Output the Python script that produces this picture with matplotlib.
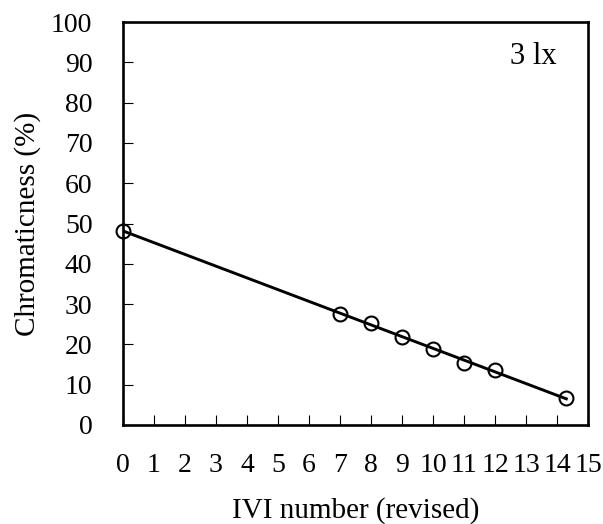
import matplotlib
matplotlib.use("Agg")
import matplotlib.pyplot as plt
import numpy as np

plt.rcParams["font.family"] = ["Liberation Serif", "DejaVu Serif"]

# data
ivi = [0, 7, 8, 9, 10, 11, 12, 14.3]
chroma = [48.2, 27.5, 25.4, 21.8, 18.9, 15.5, 13.6, 6.6]
x_ticks = list(range(0, 16))
y_ticks = list(range(0, 101, 10))

fig = plt.figure(figsize=(6.03, 5.24), dpi=100)
ax = fig.add_axes([123 / 603, 1 - 425 / 524, (588 - 123) / 603, (425 - 22) / 524])

# regression line through the points
k, b = np.polyfit(ivi, chroma, 1)
xl = np.array([min(ivi), max(ivi)])
ax.plot(xl, k * xl + b, color="black", lw=2.1, zorder=2)
ax.plot(ivi, chroma, "o", ms=10, mfc="none", mec="black", mew=1.5, zorder=3,
        clip_on=False)

ax.set_xlim(0, 15)
ax.set_ylim(0, 100)
ax.set_xticks(x_ticks)
ax.set_yticks(y_ticks)
ax.tick_params(direction="in", length=7, width=0.8, labelsize=20)
ax.tick_params(axis="y", pad=22)
ax.tick_params(axis="x", pad=20)
for s in ax.spines.values():
    s.set_linewidth(1.9)

ax.set_xlabel("IVI number (revised)", fontsize=21, labelpad=14)
ax.set_ylabel("Chromaticness (%)", fontsize=21, labelpad=7)
ax.text(0.932, 0.915, "3 lx", transform=ax.transAxes, ha="right", va="center",
        fontsize=22)

fig.savefig("out.png", dpi=100)
